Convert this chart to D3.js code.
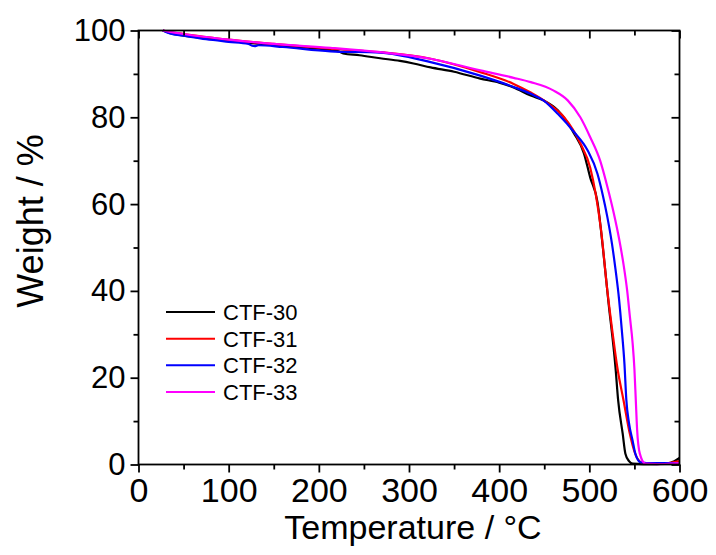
<!DOCTYPE html>
<html><head><meta charset="utf-8">
<script src="https://cdn.jsdelivr.net/npm/d3@7"></script>
<style>body{margin:0;background:#fff}svg{display:block}text{font-family:"Liberation Sans",Arial,sans-serif;fill:#000}</style>
</head><body>
<svg id="c" width="716" height="555"></svg>
<script>
const seriesNames = ["CTF-30","CTF-31","CTF-32","CTF-33"];
const seriesColors = ["#000000","#ff0000","#0000ff","#ff00ff"];
const xTicks = [0,100,200,300,400,500,600];
const yTicks = [0,20,40,60,80,100];

const ctf30T = [27,35,50,75,100,125,157,190,213,222,227,245,268,290,305,324,350,379,400,416,435,449,465,475,483,494,501,509,515,521,529,532,537,540,544,548,560,575,590,600];
const ctf30W = [100,99.4,98.8,98.2,97.6,97.1,96.5,96.0,95.5,95.2,94.7,94.3,93.6,93.0,92.4,91.5,90.5,88.9,88.0,86.9,85.0,83.9,81.6,79.0,76.3,71.7,66.1,60.5,50,37.8,22.4,14.7,7.1,2.5,0.8,0.2,0.1,0.1,0.4,1.5];

const ctf31T = [27,35,50,75,100,150,213,268,324,379,416,435,453,472,490,501,507,513,520,526,531,538,545,550,553,560,575,590,600];
const ctf31W = [100,99.6,99.2,98.5,97.9,96.9,95.8,95.0,93.5,90.4,87.7,85.7,83.4,80.0,74.0,68.4,62.4,54,40,30,22.4,14.7,7.0,3,1.5,0.3,0.2,0.4,0.8];

const ctf32T = [27,35,50,75,100,122,126,129,133,160,213,268,324,379,416,435,449,465,483,498,509,515,520,525,529,533,536,539,541,544,548,551,557,570,590,600];
const ctf32W = [100,99.3,98.8,98.0,97.4,96.9,96.5,96.4,96.6,96.2,95.2,94.9,92.7,89.6,87.0,85.4,83.9,80.8,76.6,72.4,67.0,62.0,57.0,51.0,45.0,38.0,31.0,23.0,15.0,9.5,5.5,2.5,0.5,0.3,0.3,0.3];

const ctf33T = [27,35,50,75,100,150,213,268,324,379,416,435,460,476,490,501,512,520,527,533,538,542,545,548,550,551.5,553,556,562,575,590,600];
const ctf33W = [100,99.7,99.2,98.5,97.9,96.9,96.0,95.0,93.5,90.8,89.1,88.1,86.2,83.9,80.0,75.4,70.0,64.0,58.0,52.0,46.0,40.0,34.0,28.0,22.0,15.0,8.0,2.5,0.2,0.1,0.2,0.3];

const seriesT = [ctf30T, ctf31T, ctf32T, ctf33T];
const seriesW = [ctf30W, ctf31W, ctf32W, ctf33W];

const svg = d3.select("#c");
const L = 138.5, R = 679.5, T = 30.5, B = 464.5;
const x = d3.scaleLinear().domain([0,600]).range([L,R]);
const y = d3.scaleLinear().domain([0,100]).range([B,T]);

svg.append("defs").append("clipPath").attr("id","pc").append("rect")
  .attr("x",L).attr("y",T-2).attr("width",R-L).attr("height",B-T+4);

const line = d3.line().x(d=>x(d[0])).y(d=>y(d[1])).curve(d3.curveMonotoneX);
const g = svg.append("g").attr("clip-path","url(#pc)");
seriesNames.forEach((n,i)=>{
  const pts = seriesT[i].map((t,j)=>[t,seriesW[i][j]]);
  g.append("path").datum(pts).attr("d",line).attr("fill","none")
   .attr("stroke",seriesColors[i]).attr("stroke-width",2.2).attr("stroke-linejoin","round");
});

const sw = 1.8;
const minorX = d3.range(50,600,100), minorY = d3.range(10,100,20);
const axB = svg.append("g").attr("transform",`translate(0,${B})`)
  .call(d3.axisBottom(x).tickValues(xTicks).tickSize(8).tickPadding(5).tickFormat(d3.format("d")));
const axL = svg.append("g").attr("transform",`translate(${L},0)`)
  .call(d3.axisLeft(y).tickValues(yTicks).tickSize(8).tickPadding(5).tickFormat(d3.format("d")));
const axT = svg.append("g").attr("transform",`translate(0,${T})`)
  .call(d3.axisBottom(x).tickValues(xTicks).tickSize(8).tickFormat(""));
const axR = svg.append("g").attr("transform",`translate(${R},0)`)
  .call(d3.axisLeft(y).tickValues(yTicks).tickSize(8).tickFormat(""));
const mB = svg.append("g").attr("transform",`translate(0,${B})`).call(d3.axisBottom(x).tickValues(minorX).tickSize(5).tickFormat(""));
const mL = svg.append("g").attr("transform",`translate(${L},0)`).call(d3.axisLeft(y).tickValues(minorY).tickSize(5).tickFormat(""));
const mT = svg.append("g").attr("transform",`translate(0,${T})`).call(d3.axisBottom(x).tickValues(minorX).tickSize(5).tickFormat(""));
const mR = svg.append("g").attr("transform",`translate(${R},0)`).call(d3.axisLeft(y).tickValues(minorY).tickSize(5).tickFormat(""));
[axB,axL,axT,axR,mB,mL,mT,mR].forEach(a=>{
  a.select(".domain").remove();
  a.selectAll("line").attr("stroke","#000").attr("stroke-width",sw);
});
svg.append("rect").attr("x",L).attr("y",T).attr("width",R-L).attr("height",B-T)
  .attr("fill","none").attr("stroke","#000").attr("stroke-width",sw);

axB.selectAll("text").attr("font-size",34).attr("fill","#000").attr("font-family","Liberation Sans, Arial, sans-serif");
axL.selectAll("text").attr("font-size",31).attr("fill","#000").attr("font-family","Liberation Sans, Arial, sans-serif");

svg.append("text").attr("x",(L+R)/2+4).attr("y",539).attr("text-anchor","middle")
  .attr("font-size",34).text("Temperature / °C");
svg.append("text").attr("transform","translate(43,221) rotate(-90)").attr("text-anchor","middle")
  .attr("font-size",36).text("Weight / %");

const legY = d3.scaleLinear().domain([0,3]).range([312,392]);
seriesNames.forEach((n,i)=>{
  const yy = legY(i);
  svg.append("line").attr("x1",166).attr("x2",215).attr("y1",yy).attr("y2",yy)
    .attr("stroke",seriesColors[i]).attr("stroke-width",2);
  svg.append("text").attr("x",223).attr("y",yy).attr("dy","0.36em").attr("font-size",22).text(n);
});
</script>
</body></html>
